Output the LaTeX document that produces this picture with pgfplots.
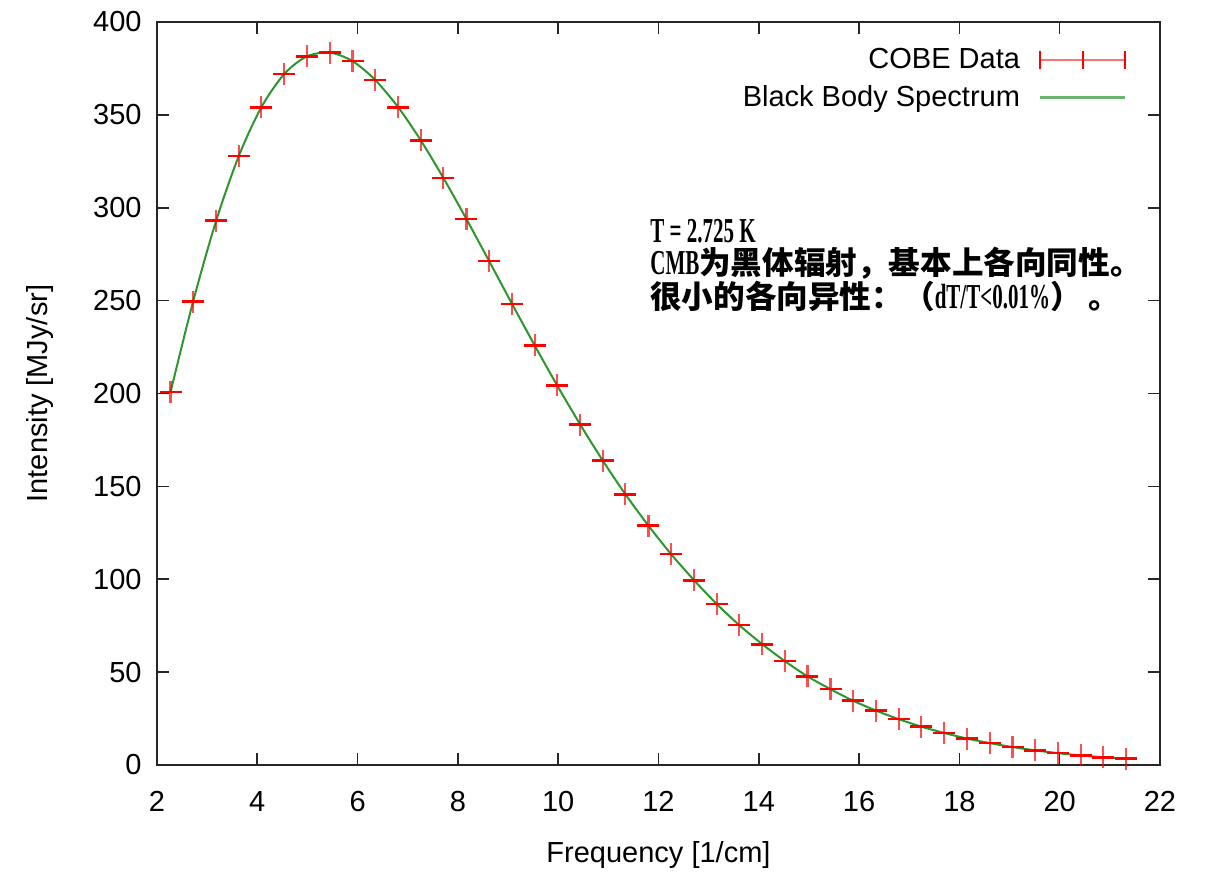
\documentclass[border=0pt]{standalone}
\usepackage{fontspec}
\setmainfont{Liberation Sans}
\newfontfamily\cjk{Noto Sans CJK SC}
\newfontfamily\condserif{Liberation Serif}[FakeStretch=0.6]
\usepackage{pgfplots}
\usepackage{pgfplotstable}
\pgfplotsset{compat=1.18}
\definecolor{gpgreen}{RGB}{45,150,45}
\definecolor{gpred}{RGB}{255,0,0}
\pgfplotstableread{
x y
2.27 200.723
2.72 249.508
3.18 293.024
3.63 327.770
4.08 354.081
4.54 372.079
4.99 381.493
5.45 383.478
5.90 378.901
6.35 368.833
6.81 354.063
7.26 336.278
7.71 316.076
8.17 293.924
8.62 271.432
9.08 248.239
9.53 225.940
9.98 204.327
10.44 183.262
10.89 163.830
11.34 145.750
11.80 128.835
12.25 113.568
12.71 99.451
13.16 86.715
13.61 75.284
14.07 65.003
14.52 55.919
14.97 47.743
15.43 40.823
15.88 34.599
16.34 29.264
16.79 24.668
17.24 20.657
17.70 17.211
18.15 14.254
18.61 11.759
19.06 9.654
19.51 7.872
19.97 6.375
20.42 5.121
20.87 4.164
21.33 3.390
}\cobe
\begin{document}
\begin{tikzpicture}
\useasboundingbox (-78.5pt,-53.5pt) rectangle (525pt,382.5pt);
\begin{axis}[
  at={(0,0)}, anchor=south west,
  width=501.5pt, height=371.5pt, scale only axis,
  xmin=2, xmax=22, ymin=0, ymax=400,
  xtick={2,4,...,22}, ytick={0,50,...,400},
  tick align=inside, major tick length=6pt,
  tick style={black!85, line width=0.8pt},
  axis line style={black!85, line width=0.9pt},
  /pgf/number format/assume math mode=true,
  tick label style={font=\fontsize{14.5}{17}\selectfont, inner sep=0pt},
  yticklabel style={xshift=-7.5pt},
  xticklabel style={yshift=-13pt},
  label style={font=\fontsize{14.5}{17}\selectfont},
  xlabel={Frequency [1/cm]},
  ylabel={Intensity [MJy/sr]},
  xlabel style={at={(axis description cs:0.5,-0.1211)}, anchor=center},
  ylabel style={at={(axis description cs:-0.1167,0.5)}, anchor=center},
  legend plot pos=right,
  legend cell align=right,
  legend style={draw=none, fill=none, at={(1,1)}, anchor=north east,
    xshift=-16.5pt, yshift=-12pt, inner sep=0pt, row sep=5pt, column sep=8.5pt,
    font=\fontsize{14.5}{17}\selectfont, nodes={inner sep=1pt}},
]
% vertical arms of the + marks (lighter)
\addplot[only marks, mark=|, mark size=5.5pt, gpred, opacity=0.7,
  mark options={line width=1.1pt}, forget plot] table[x=x, y=y] {\cobe};
% horizontal arms (solid, error-bar caps)
\addplot[only marks, mark=-, mark size=5.5pt, gpred,
  mark options={line width=1.25pt},
  legend image code/.code={
    \draw[gpred, opacity=0.55, line width=1.1pt] (0pt,0pt) -- (42.5pt,0pt);
    \draw[gpred, line width=0.9pt] (0pt,-4.5pt) -- (0pt,4.5pt)
       (42.5pt,-4.5pt) -- (42.5pt,4.5pt) (21.25pt,-4.5pt) -- (21.25pt,4.5pt);
  }] table[x=x, y=y] {\cobe};
\addlegendentry{COBE Data}
\addplot[gpgreen, line width=1pt, smooth, tension=0.5, no marks,
  legend image code/.code={
    \draw[gpgreen, opacity=0.7, line width=1.3pt] (0pt,0pt) -- (42.5pt,0pt);
  }] table[x=x, y=y] {\cobe};
\addlegendentry{Black Body Spectrum}
\node[anchor=base west, inner sep=0pt] at (axis cs:11.83,281.5) {\condserif\bfseries\fontsize{17.5}{20}\selectfont T = 2.725 K};
\node[anchor=base west, inner sep=0pt] at (axis cs:11.83,263.8) {{\condserif\bfseries\fontsize{17.5}{20}\selectfont CMB}{\cjk\bfseries\fontsize{15.8}{19}\selectfont 为黑体辐射，基本上各向同性。}};
\node[anchor=base west, inner sep=0pt] at (axis cs:11.83,245.5) {{\cjk\bfseries\fontsize{15.8}{19}\selectfont 很小的各向异性：（}{\condserif\bfseries\fontsize{17.5}{20}\selectfont dT/T<0.01\%}{\cjk\bfseries\fontsize{15.8}{19}\selectfont ） 。}};
\end{axis}
\end{tikzpicture}
\end{document}
